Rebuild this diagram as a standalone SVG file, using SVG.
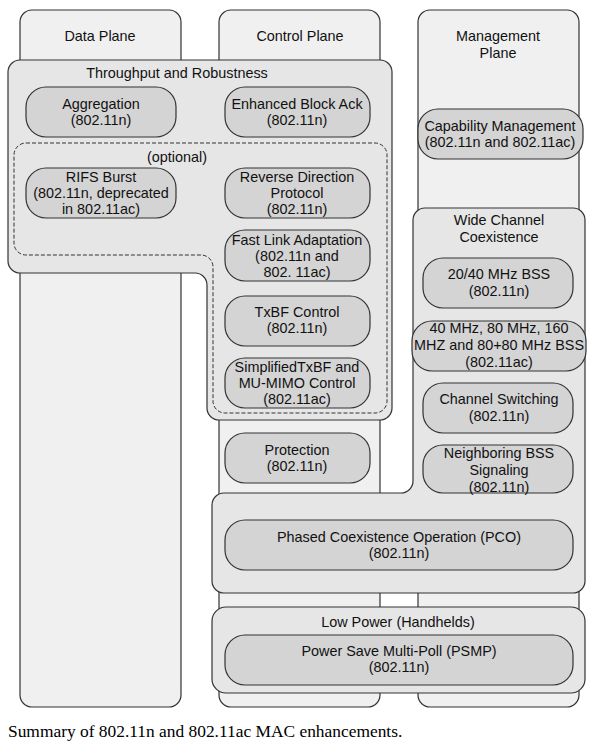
<svg xmlns="http://www.w3.org/2000/svg" width="594" height="745" viewBox="0 0 594 745">
<style>
.col{fill:#f0f0f0;stroke:#333;stroke-width:1.2}
.grp{fill:#e6e6e6;stroke:#333;stroke-width:1.2}
.box{fill:#d4d4d4;stroke:#333;stroke-width:1.2}
.dash{fill:none;stroke:#333;stroke-width:1;stroke-dasharray:4 2}
text{font-family:"Liberation Sans",Arial,sans-serif;font-size:14.4px;fill:#111;text-anchor:middle}
.cap{font-family:"Liberation Serif","Times New Roman",serif;font-size:17.4px;fill:#000;text-anchor:start}
</style>
<rect x="0" y="0" width="594" height="745" fill="#fff"/>
<g id="data-plane"><rect class="col" x="20" y="10" width="161" height="697" rx="12"/><text x="100" y="41">Data Plane</text></g>
<g id="control-plane"><rect class="col" x="219" y="10" width="161" height="697" rx="12"/><text x="300" y="41">Control Plane</text></g>
<g id="management-plane"><rect class="col" x="418" y="10" width="161" height="697" rx="12"/><text x="498" y="41">Management</text><text x="498" y="58">Plane</text></g>

<g id="throughput">
<path class="grp" d="M20,60 H380 A12,12 0 0 1 392,72 V408 A12,12 0 0 1 380,420 H219 A12,12 0 0 1 207,408 V285 A12,12 0 0 0 195,273 H20 A12,12 0 0 1 8,261 V72 A12,12 0 0 1 20,60 Z"/>
<text x="177" y="78">Throughput and Robustness</text>
</g>
<g id="optional">
<path class="dash" d="M26,143 H375 A12,12 0 0 1 387,155 V401 A12,12 0 0 1 375,413 H225 A12,12 0 0 1 213,401 V267 A12,12 0 0 0 201,255 H26 A12,12 0 0 1 14,243 V155 A12,12 0 0 1 26,143 Z"/>
<text x="177" y="162">(optional)</text>
</g>
<g id="wide-channel">
<path class="grp" d="M425,208 H573 A12,12 0 0 1 585,220 V581 A12,12 0 0 1 573,593 H224 A12,12 0 0 1 212,581 V505 A12,12 0 0 1 224,493 H401 A12,12 0 0 0 413,481 V220 A12,12 0 0 1 425,208 Z"/>
<text x="499" y="225">Wide Channel</text><text x="499" y="242">Coexistence</text>
</g>
<g id="low-power">
<rect class="grp" x="212" y="607" width="373" height="86" rx="14"/>
<text x="398" y="627">Low Power (Handhelds)</text>
</g>

<g id="aggregation"><rect class="box" x="26" y="87" width="150" height="50" rx="20"/><text x="101" y="109">Aggregation</text><text x="101" y="125">(802.11n)</text></g>
<g id="block-ack"><rect class="box" x="225" y="87" width="145" height="50" rx="20"/><text x="297" y="109">Enhanced Block Ack</text><text x="297" y="125">(802.11n)</text></g>
<g id="capability"><rect class="box" x="418" y="109" width="165" height="50" rx="20"/><text x="500" y="131">Capability Management</text><text x="500" y="147">(802.11n and 802.11ac)</text></g>
<g id="rifs"><rect class="box" x="26" y="168" width="150" height="50" rx="20"/><text x="101" y="182">RIFS Burst</text><text x="101" y="198">(802.11n, deprecated</text><text x="101" y="214">in 802.11ac)</text></g>
<g id="reverse"><rect class="box" x="225" y="168" width="145" height="50" rx="20"/><text x="297" y="182">Reverse Direction</text><text x="297" y="198">Protocol</text><text x="297" y="214">(802.11n)</text></g>
<g id="fast-link"><rect class="box" x="225" y="230" width="145" height="51" rx="20"/><text x="297" y="245">Fast Link Adaptation</text><text x="297" y="261">(802.11n and</text><text x="297" y="277">802. 11ac)</text></g>
<g id="txbf"><rect class="box" x="225" y="296" width="145" height="50" rx="20"/><text x="297" y="317">TxBF Control</text><text x="297" y="333">(802.11n)</text></g>
<g id="simplified"><rect class="box" x="225" y="358" width="145" height="50" rx="20"/><text x="297" y="372">SimplifiedTxBF and</text><text x="297" y="388">MU-MIMO Control</text><text x="297" y="404">(802.11ac)</text></g>
<g id="protection"><rect class="box" x="225" y="433" width="145" height="50" rx="20"/><text x="297" y="455">Protection</text><text x="297" y="471">(802.11n)</text></g>
<g id="bss2040"><rect class="box" x="423" y="258" width="150" height="50" rx="20"/><text x="499" y="279">20/40 MHz BSS</text><text x="499" y="296">(802.11n)</text></g>
<g id="bss160"><rect class="box" x="412" y="321" width="174" height="50" rx="20"/><text x="499" y="333">40 MHz, 80 MHz, 160</text><text x="499" y="350">MHZ and 80+80 MHz BSS</text><text x="499" y="367">(802.11ac)</text></g>
<g id="channel-switching"><rect class="box" x="423" y="383" width="150" height="50" rx="20"/><text x="499" y="404">Channel Switching</text><text x="499" y="421">(802.11n)</text></g>
<g id="neighboring"><rect class="box" x="423" y="445" width="150" height="48" rx="20"/><text x="499" y="458">Neighboring BSS</text><text x="499" y="475">Signaling</text><text x="499" y="492">(802.11n)</text></g>
<g id="pco"><rect class="box" x="225" y="520" width="348" height="50" rx="20"/><text x="399" y="542">Phased Coexistence Operation (PCO)</text><text x="399" y="558">(802.11n)</text></g>
<g id="psmp"><rect class="box" x="225" y="635" width="348" height="50" rx="20"/><text x="399" y="656">Power Save Multi-Poll (PSMP)</text><text x="399" y="672">(802.11n)</text></g>
<g id="connectors"></g>
<text class="cap" x="8" y="737">Summary of 802.11n and 802.11ac MAC enhancements.</text>
</svg>
